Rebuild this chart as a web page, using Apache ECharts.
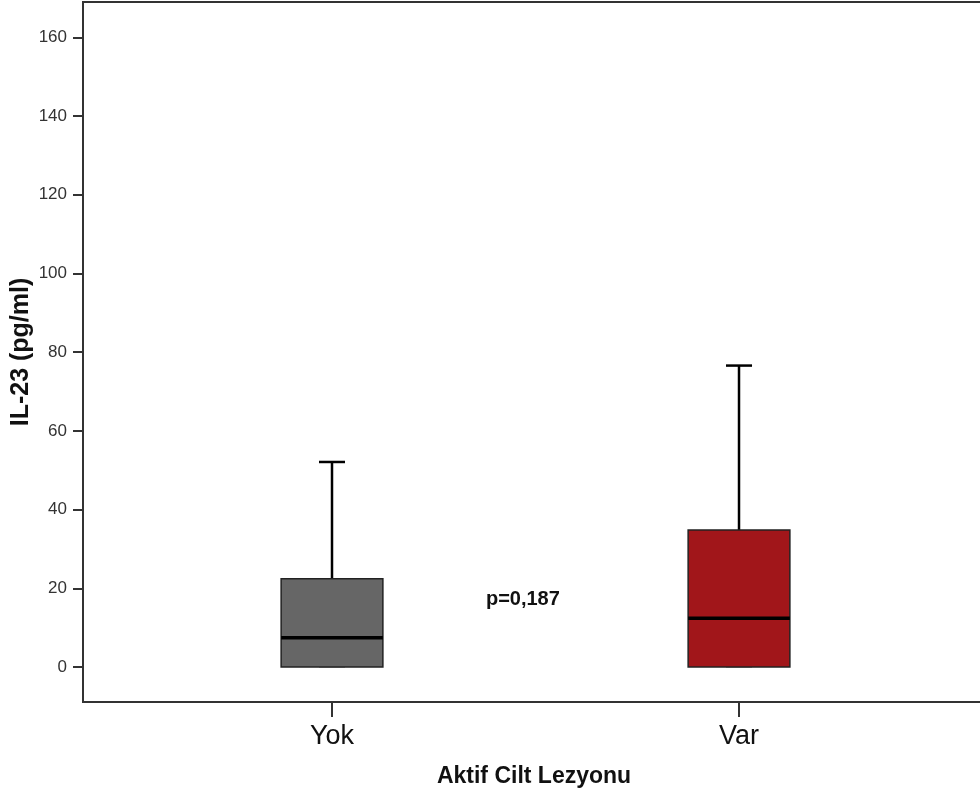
<!DOCTYPE html>
<html>
<head>
<meta charset="utf-8">
<script src="https://cdn.jsdelivr.net/npm/echarts@6.0.0/dist/echarts.min.js"></script>
<style>
    html, body { margin: 0; padding: 0; background: #fff; }
    #box { width: 980px; height: 794px; }
</style>
</head>
<body>
<div id="box"></div>
<script>
    // kategoriler ve kutu grafiği değerleri (pg/ml)
    var categories = ["Yok", "Var"];
    var whiskerLow = [0, 0];
    var q1 = [0, 0];
    var median = [7.4, 12.4];
    var q3 = [22.4, 34.8];
    var whiskerHigh = [52.1, 76.6];
    var yTicks = [0, 20, 40, 60, 80, 100, 120, 140, 160];
    var pLabel = "p=0,187";

    var boxColors = ["#666666", "#a1161a"];
    var fontFam = "'Liberation Sans', Arial, sans-serif";

    // custom series'e veri: [x, alt, Q1, medyan, Q3, üst]
    var boxData = categories.map(function (c, i) {
        return [i + 1, whiskerLow[i], q1[i], median[i], q3[i], whiskerHigh[i]];
    });

    var chart = echarts.init(document.getElementById("box"));

    var option = {
        backgroundColor: "#fff",
        animation: false,
        grid: {
            left: 83,
            right: -5,
            top: 2,
            bottom: 92,
            outerBoundsMode: "none",
            containLabel: false,
            show: true,
            borderColor: "#333",
            borderWidth: 2,
            backgroundColor: "transparent"
        },
        xAxis: {
            type: "value",
            min: 0.3882,
            max: 2.6044,
            name: "Aktif Cilt Lezyonu",
            nameLocation: "middle",
            nameGap: 63,
            nameMoveOverlap: false,
            nameTextStyle: {
                fontFamily: fontFam,
                fontWeight: "bold",
                fontSize: 23,
                color: "#111"
            },
            splitLine: { show: false },
            axisLine: { show: true, onZero: false, lineStyle: { color: "#333", width: 2 } },
            axisTick: {
                show: true,
                length: 15,
                customValues: [1, 2],
                lineStyle: { color: "#333", width: 2 }
            },
            axisLabel: {
                customValues: [1, 2],
                margin: 21,
                fontFamily: fontFam,
                fontSize: 27,
                color: "#111",
                formatter: function (v) {
                    return categories[Math.round(v) - 1];
                }
            }
        },
        yAxis: {
            type: "value",
            min: -8.9,
            max: 169.0,
            name: "IL-23 (pg/ml)",
            nameLocation: "middle",
            nameGap: 49,
            nameMoveOverlap: false,
            nameTextStyle: {
                fontFamily: fontFam,
                fontWeight: "bold",
                fontSize: 25,
                color: "#111"
            },
            splitLine: { show: false },
            axisLine: { show: true, onZero: false, lineStyle: { color: "#333", width: 2 } },
            axisTick: {
                show: true,
                length: 10,
                customValues: yTicks,
                lineStyle: { color: "#333", width: 2 }
            },
            axisLabel: {
                customValues: yTicks,
                margin: 16,
                fontFamily: fontFam,
                fontSize: 17,
                color: "#333"
            }
        },
        series: [{
            type: "custom",
            data: boxData,
            encode: { x: 0, y: [1, 2, 3, 4, 5] },
            renderItem: function (params, api) {
                var x = api.value(0);
                var lo = api.coord([x, api.value(1)]);
                var b1 = api.coord([x, api.value(2)]);
                var md = api.coord([x, api.value(3)]);
                var b3 = api.coord([x, api.value(4)]);
                var hi = api.coord([x, api.value(5)]);
                var bw = api.size([0.25, 0])[0];
                var cw = api.size([0.064, 0])[0];
                var cx = b1[0];
                var lineSt = { stroke: "#000", lineWidth: 2.5 };
                return {
                    type: "group",
                    children: [
                        { type: "line", shape: { x1: cx, y1: b3[1], x2: cx, y2: hi[1] }, style: lineSt },
                        { type: "line", shape: { x1: cx - cw / 2, y1: hi[1], x2: cx + cw / 2, y2: hi[1] }, style: lineSt },
                        { type: "line", shape: { x1: cx, y1: lo[1], x2: cx, y2: b1[1] }, style: lineSt },
                        { type: "line", shape: { x1: cx - cw / 2, y1: lo[1], x2: cx + cw / 2, y2: lo[1] }, style: { stroke: "#999", lineWidth: 1.5 } },
                        {
                            type: "rect",
                            shape: { x: cx - bw / 2, y: b3[1], width: bw, height: b1[1] - b3[1] },
                            style: { fill: boxColors[params.dataIndex], stroke: "#222", lineWidth: 1.5 }
                        },
                        { type: "line", shape: { x1: cx - bw / 2, y1: md[1], x2: cx + bw / 2, y2: md[1] }, style: { stroke: "#000", lineWidth: 3.5 } }
                    ]
                };
            }
        }]
    };

    chart.setOption(option);

    // p değeri etiketi, iki grubun arasında
    var pPos = chart.convertToPixel({ gridIndex: 0 }, [1.469, 17.2]);
    chart.setOption({
        graphic: [{
            type: "text",
            x: pPos[0],
            y: pPos[1],
            style: {
                text: pLabel,
                textAlign: "center",
                textVerticalAlign: "middle",
                font: "bold 20px " + fontFam,
                fill: "#111"
            }
        }]
    });
</script>
</body>
</html>
